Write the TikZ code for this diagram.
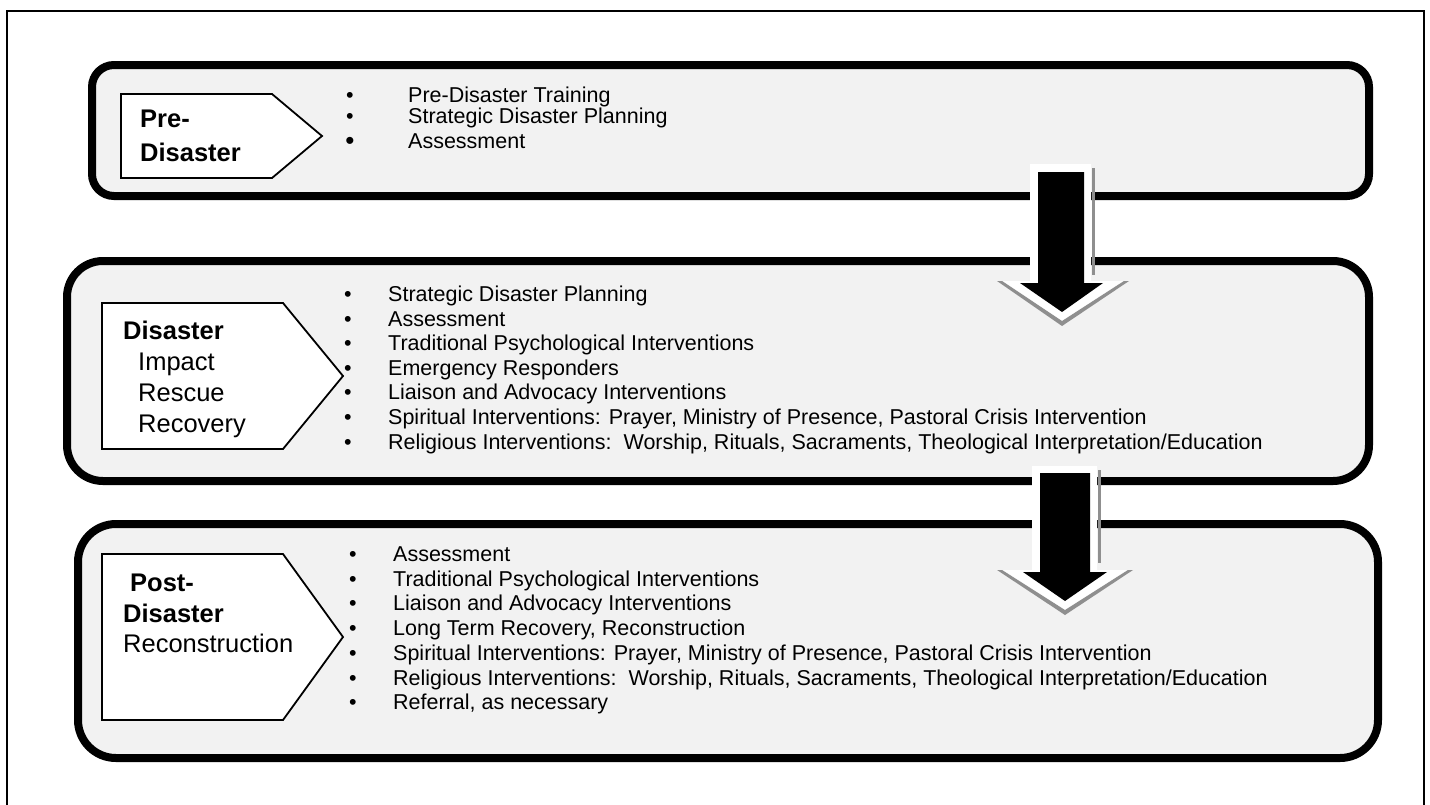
\documentclass[tikz,border=0pt]{standalone}
\usepackage{fontspec}
\setmainfont{Liberation Sans}
\definecolor{boxgray}{HTML}{F2F2F2}
\definecolor{shadegray}{HTML}{8F8F8F}
\begin{document}
\begin{tikzpicture}[x=1pt,y=-1pt,
  phasebox/.style={draw=black, line width=8, fill=boxgray},
  tagshape/.style={draw=black, line width=1.8, fill=white, line join=miter},
  tagtext/.style={inner sep=0, anchor=base west, font=\fontsize{25.5}{30}\selectfont},
  itm/.style={inner sep=0, anchor=base west, font=\fontsize{21.5}{24}\selectfont},
  bul/.style={inner sep=0, anchor=base, font=\fontsize{21.5}{24}\selectfont},
  halo/.style={fill=white},
  shade/.style={fill=shadegray},
  arrowbody/.style={fill=black}]
\useasboundingbox (0,0) rectangle (1430,804);
\fill[white] (0,0) rectangle (1430,804);
% outer frame
\draw[line width=2] (7,806) -- (7,11) -- (1424,11) -- (1424,806);

% phase boxes
\draw[phasebox, rounded corners=22] (92,65) rectangle (1369,196);
\draw[phasebox, rounded corners=36] (67,261) rectangle (1369,481);
\draw[phasebox, rounded corners=38] (78,524) rectangle (1378,758);

% arrow 1
\fill[shade] (1091.5,168) rectangle (1094.5,275);
\fill[shade] (997,281) -- (1062,326) -- (1129,281) -- (1124,281) -- (1062,321) -- (1002,281) -- cycle;
\fill[halo] (1030,164) -- (1091,164) -- (1091,281) -- (1123,281) -- (1062,320.5) -- (1003,281) -- (1030,281) -- cycle;
\fill[arrowbody] (1038,172) -- (1084,172) -- (1084,283) -- (1103,283) -- (1062,312) -- (1020,283) -- (1038,283) -- cycle;

% arrow 2
\fill[shade] (1097.5,470) rectangle (1100.5,563);
\fill[shade] (997,570) -- (1065,615) -- (1133,570) -- (1128,570) -- (1065,610) -- (1002,570) -- cycle;
\fill[halo] (1032,466) -- (1097,466) -- (1097,570) -- (1127,570) -- (1065,609.5) -- (1003,570) -- (1032,570) -- cycle;
\fill[arrowbody] (1040,473) -- (1090,473) -- (1090,572) -- (1107,572) -- (1065,601) -- (1023,572) -- (1040,572) -- cycle;

% tags
\draw[tagshape] (121,94) -- (272,94) -- (322,136) -- (272,178) -- (121,178) -- cycle;
\draw[tagshape] (102,303) -- (283,303) -- (343,376) -- (283,449) -- (102,449) -- cycle;
\draw[tagshape] (102,554) -- (283,554) -- (343,637) -- (283,720) -- (102,720) -- cycle;

\node[tagtext] (t1a) at (140,127) {\bfseries Pre-};
\node[tagtext] (t1b) at (140,161) {\bfseries Disaster};

\node[tagtext] (t2a) at (123,339) {\bfseries Disaster};
\node[tagtext] (t2b) at (138,370) {Impact};
\node[tagtext] (t2c) at (138,401) {Rescue};
\node[tagtext] (t2d) at (138,432) {Recovery};

\node[tagtext] (t3a) at (130,591) {\bfseries Post-};
\node[tagtext] (t3b) at (123,622) {\bfseries Disaster};
\node[tagtext] (t3c) at (123,652) {Reconstruction};

% box 1 items
\node[bul] (d1a) at (350,102.5) {•};
\node[itm] (i1a) at (408,102.5) {Pre-Disaster Training};
\node[bul] (d1b) at (350,123.5) {•};
\node[itm] (i1b) at (408,123.5) {Strategic Disaster Planning};
\node[bul, font=\fontsize{26}{28}\selectfont] (d1c) at (350,149.5) {•};
\node[itm] (i1c) at (408,148.5) {Assessment};

% box 2 items
\foreach \t [count=\i from 0] in {{Strategic Disaster Planning},{Assessment},{Traditional Psychological Interventions},{Emergency Responders},{Liaison and Advocacy Interventions},{Spiritual Interventions: Prayer, Ministry of Presence, Pastoral Crisis Intervention},{Religious Interventions:\ \ Worship, Rituals, Sacraments, Theological Interpretation/Education}} {
  \node[bul] (d2\i) at (348,301.5+24.6*\i) {•};
  \node[itm] (i2\i) at (388,301.5+24.6*\i) {\t};
}

% box 3 items
\foreach \t [count=\i from 0] in {{Assessment},{Traditional Psychological Interventions},{Liaison and Advocacy Interventions},{Long Term Recovery, Reconstruction},{Spiritual Interventions: Prayer, Ministry of Presence, Pastoral Crisis Intervention},{Religious Interventions:\ \ Worship, Rituals, Sacraments, Theological Interpretation/Education},{Referral, as necessary}} {
  \node[bul] (d3\i) at (353,561.5+24.7*\i) {•};
  \node[itm] (i3\i) at (393,561.5+24.7*\i) {\t};
}
\end{tikzpicture}
\end{document}
